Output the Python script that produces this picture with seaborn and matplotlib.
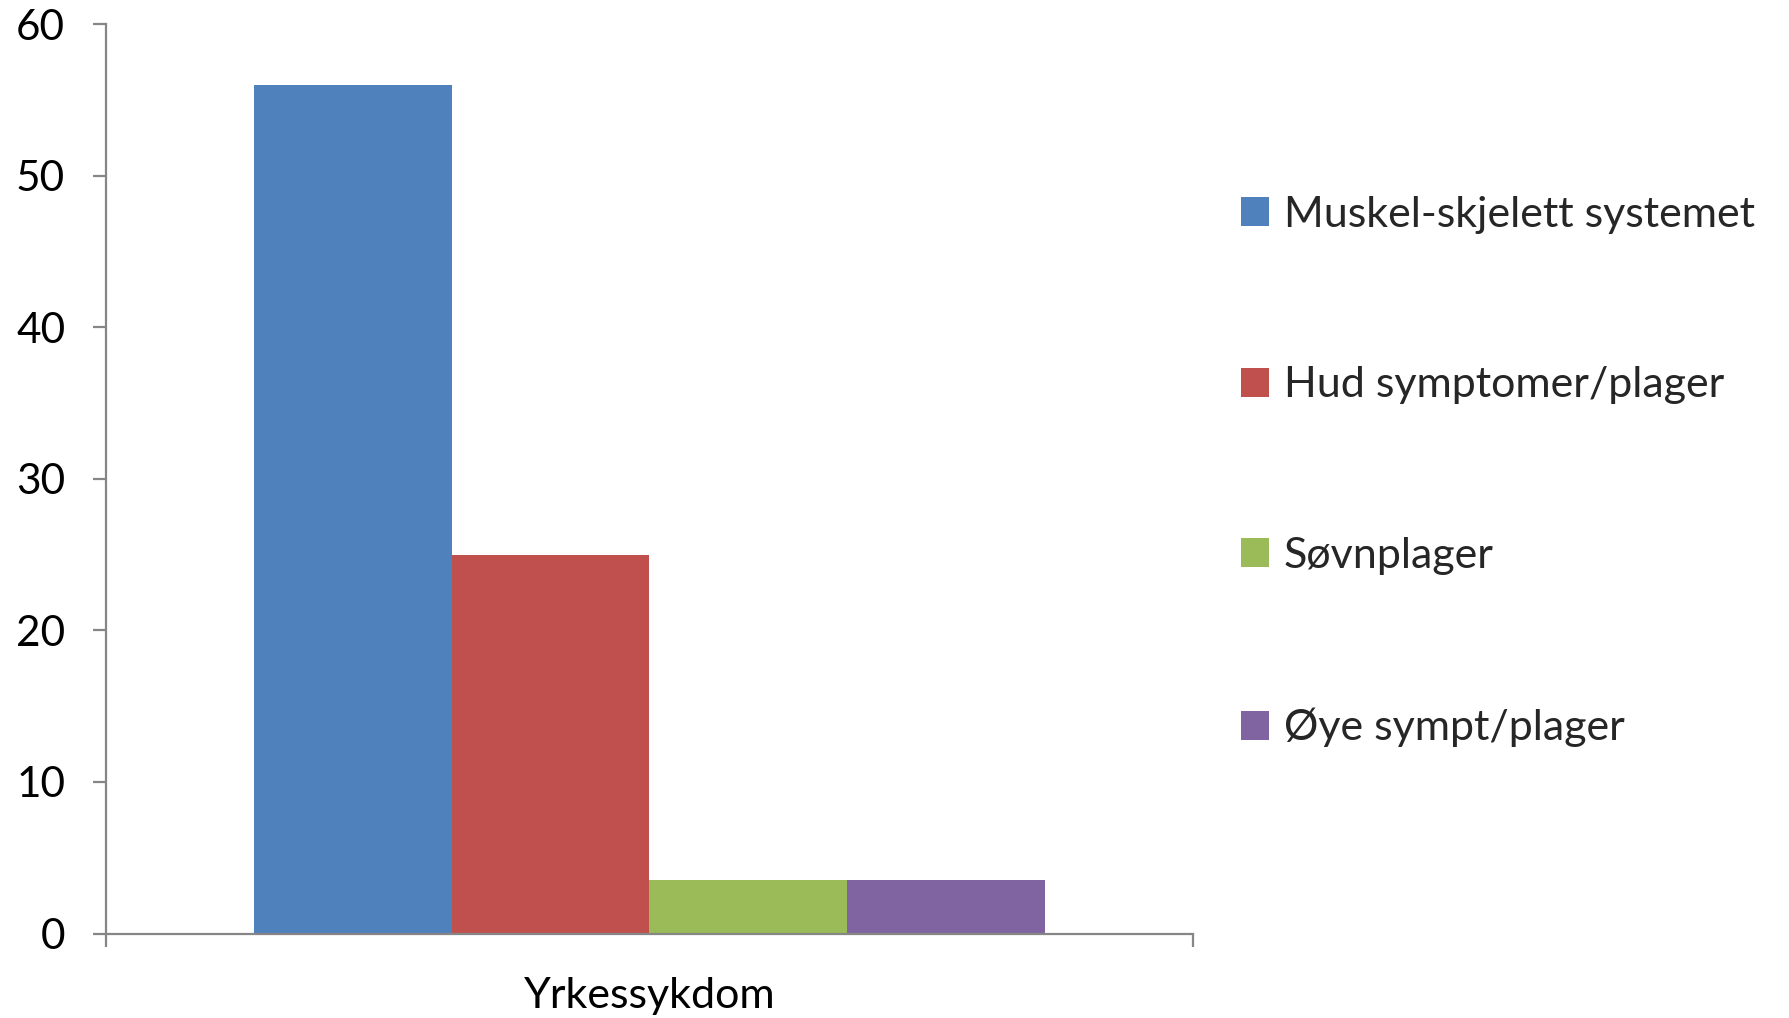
import matplotlib
matplotlib.use("Agg")
import matplotlib.pyplot as plt
import seaborn as sns
import pandas as pd

category = ["Yrkessykdom"]
series_names = ["Muskel-skjelett systemet", "Hud symptomer/plager", "Søvnplager", "Øye sympt/plager"]
series_values = [56, 25, 3.5, 3.5]
series_colors = ["#4F81BD", "#C0504D", "#9BBB59", "#8064A2"]
y_ticks = [0, 10, 20, 30, 40, 50, 60]

df = pd.DataFrame({
    "kategori": category * len(series_names),
    "serie": series_names,
    "verdi": series_values,
})

sns.set_theme(style="white")
plt.rcParams["font.family"] = ["Lato", "DejaVu Sans"]

fig = plt.figure(figsize=(17.89, 10.18), dpi=100)
ax = fig.add_axes([0.0593, 0.083, 0.6075, 0.8934])

sns.barplot(data=df, x="kategori", y="verdi", hue="serie",
            hue_order=series_names, palette=series_colors,
            width=0.727, linewidth=0, saturation=1, ax=ax)

axis_grey = "#868686"
ax.set_xlim(-0.5, 0.5)
ax.set_ylim(0, 60)
ax.set_yticks(y_ticks)
ax.set_xlabel("")
ax.set_ylabel("")
for side in ["top", "right"]:
    ax.spines[side].set_visible(False)
for side in ["left", "bottom"]:
    ax.spines[side].set_color(axis_grey)
    ax.spines[side].set_linewidth(1.6)

ax.tick_params(axis="y", which="major", direction="out", length=9.5, width=1.6,
               color=axis_grey, pad=20, labelsize=30.5, labelcolor="black", left=True)
ax.set_xticks([0])
ax.set_xticks([-0.5, 0.5], minor=True)
ax.tick_params(axis="x", which="major", length=0, pad=31, labelsize=31, labelcolor="black")
ax.tick_params(axis="x", which="minor", direction="out", length=9.5, width=1.6,
               color=axis_grey, bottom=True)

handles, labels = ax.get_legend_handles_labels()
ax.legend(handles, labels, loc="center left", bbox_to_anchor=(1.028, 0.508),
          frameon=False, fontsize=31, handlelength=0.66, handleheight=0.66,
          handletextpad=0.35, labelspacing=3.08, borderaxespad=0)

fig.savefig("out.png", dpi=100, facecolor="white")
